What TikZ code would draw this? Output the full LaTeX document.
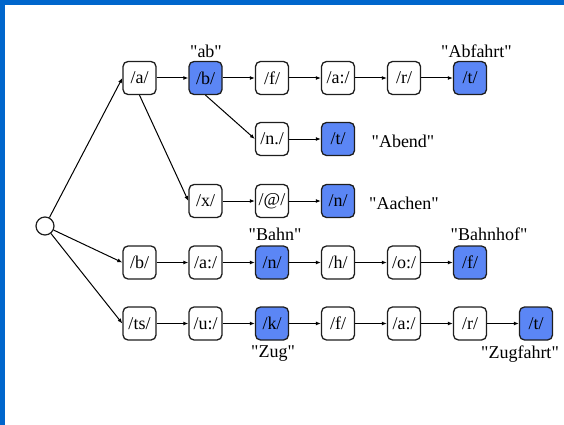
\documentclass[tikz,border=0pt]{standalone}
\usepackage{fontspec}
\setmainfont{Liberation Serif}[Ligatures=TeXOff]
\usetikzlibrary{arrows.meta}
\definecolor{frameblue}{RGB}{0,102,204}
\definecolor{endblue}{RGB}{91,134,245}
\definecolor{boxline}{RGB}{30,30,30}
\begin{document}
\begin{tikzpicture}[x=1pt,y=-1pt,
  phon/.style={draw=boxline,line width=1.3pt,rounded corners=5pt,fill=white,
    minimum width=33pt,minimum height=33pt,inner sep=0pt,font=\fontsize{18}{20}\selectfont},
  final/.style={phon,fill=endblue},
  word/.style={font=\fontsize{18}{20}\selectfont,inner sep=0pt},
  link/.style={line width=1pt,-{Latex[length=5pt,width=4pt]}}]
\useasboundingbox (0,0) rectangle (564,425);
% frame
\fill[frameblue] (0,0) rectangle (564,5);
\fill[frameblue] (0,0) rectangle (5,425);
% root
\node[draw=boxline,line width=1.2pt,circle,minimum size=18pt,inner sep=0pt,fill=white] (root) at (45,226) {};
% row 1: ab / Abfahrt
\node[phon]  (a1) at (139.5,78) {/a/};
\node[final] (b1) at (205.5,78) {/b/};
\node[phon]  (f1) at (272,78) {/f/};
\node[phon]  (aa1) at (338,78) {/a:/};
\node[phon]  (r1) at (404,78) {/r/};
\node[final] (t1) at (470,78) {/t/};
% row 2: Abend
\node[phon]  (n2) at (272,139) {/n./};
\node[final] (t2) at (338,139) {/t/};
% row 3: Aachen
\node[phon]  (x3) at (205.5,201) {/x/};
\node[phon]  (at3) at (272,201) {/@/};
\node[final] (n3) at (338,201) {/n/};
% row 4: Bahn / Bahnhof
\node[phon]  (b4) at (139.5,262.5) {/b/};
\node[phon]  (aa4) at (205.5,262.5) {/a:/};
\node[final] (n4) at (272,262.5) {/n/};
\node[phon]  (h4) at (338,262.5) {/h/};
\node[phon]  (o4) at (404,262.5) {/o:/};
\node[final] (f4) at (470,262.5) {/f/};
% row 5: Zug / Zugfahrt
\node[phon]  (ts5) at (139.5,323.5) {/ts/};
\node[phon]  (u5) at (205.5,323.5) {/u:/};
\node[final] (k5) at (272,323.5) {/k/};
\node[phon]  (f5) at (338,323.5) {/f/};
\node[phon]  (aa5) at (404,323.5) {/a:/};
\node[phon]  (r5) at (470,323.5) {/r/};
\node[final] (t5) at (536,323.5) {/t/};
% words
\node[word] (wab) at (206,51) {"ab"};
\node[word] (wabfahrt) at (476.5,51) {"Abfahrt"};
\node[word] (wabend) at (403,141) {"Abend"};
\node[word] (waachen) at (404,203) {"Aachen"};
\node[word] (wbahn) at (275,234) {"Bahn"};
\node[word] (wbahnhof) at (489,234) {"Bahnhof"};
\node[word] (wzug) at (273,354) {"Zug"};
\node[word] (wzugfahrt) at (520,354) {"Zugfahrt"};
% branches
\draw[link] (root) -- (a1.west);
\draw[link] (root) -- (b4.west);
\draw[link] (root) -- (ts5.west);
\draw[link] (a1.south) -- (x3.west);
\draw[link] (b1.south) -- (n2.west);
% chains
\draw[link] (a1) -- (b1);
\draw[link] (b1) -- (f1);
\draw[link] (f1) -- (aa1);
\draw[link] (aa1) -- (r1);
\draw[link] (r1) -- (t1);
\draw[link] (n2) -- (t2);
\draw[link] (x3) -- (at3);
\draw[link] (at3) -- (n3);
\draw[link] (b4) -- (aa4);
\draw[link] (aa4) -- (n4);
\draw[link] (n4) -- (h4);
\draw[link] (h4) -- (o4);
\draw[link] (o4) -- (f4);
\draw[link] (ts5) -- (u5);
\draw[link] (u5) -- (k5);
\draw[link] (k5) -- (f5);
\draw[link] (f5) -- (aa5);
\draw[link] (aa5) -- (r5);
\draw[link] (r5) -- (t5);
\end{tikzpicture}
\end{document}
